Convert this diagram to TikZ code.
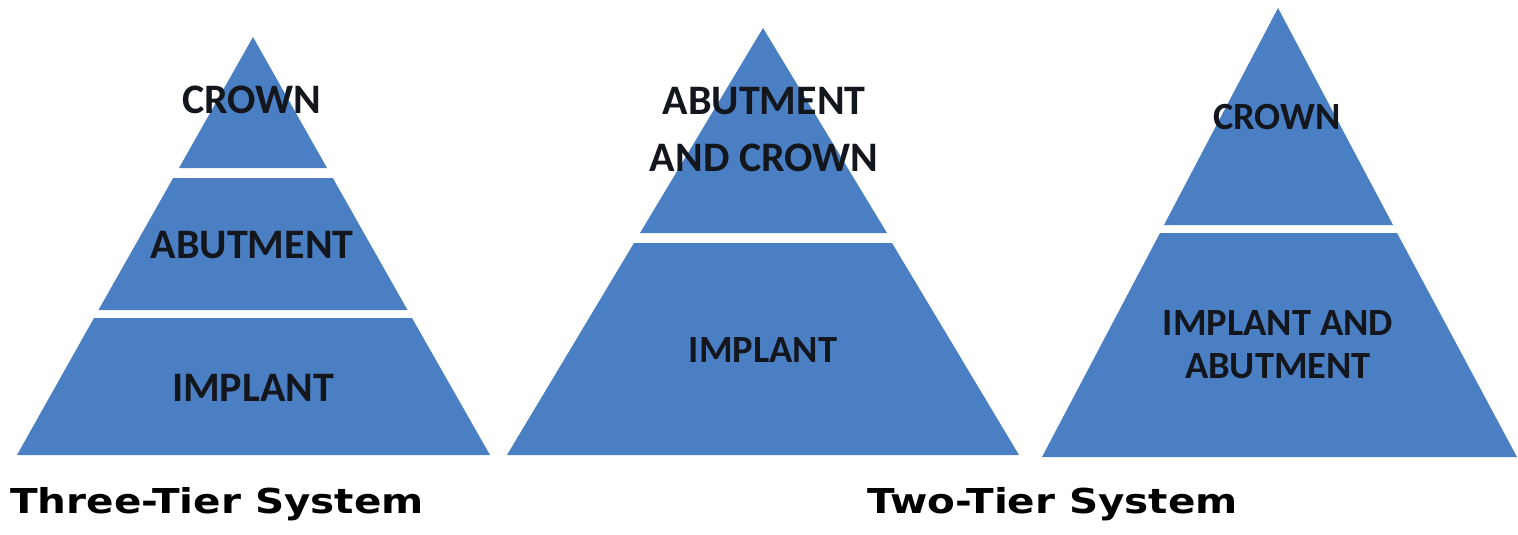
\documentclass[tikz,border=0pt]{standalone}
\usepackage{fontspec}
\newfontfamily\lblfont{Carlito}
\newfontfamily\capfont{DejaVu Sans}
\definecolor{pyr}{HTML}{4A80C3}
\definecolor{ink}{HTML}{14161E}
\begin{document}
\begin{tikzpicture}[x=1pt,y=-1pt,
  band/.style={fill=pyr,draw=none},
  lbl/.style={font=\lblfont\bfseries\fontsize{42}{46}\selectfont,text=ink,align=center,inner sep=0pt},
  lblsmall/.style={lbl,font=\lblfont\bfseries\fontsize{38.5}{43}\selectfont},
  captiontext/.style={font=\capfont\bfseries\fontsize{34.3}{40}\selectfont,text=black,anchor=base west,inner sep=0pt}]
\useasboundingbox (0,0) rectangle (1518,535);
\fill[white] (0,0) rectangle (1518,535);
% pyramid 1
\fill[band] (253,37) -- (327,168) -- (179,168) -- cycle;
\fill[band] (173.2,178) -- (332.8,178) -- (407.5,310) -- (98.5,310) -- cycle;
\fill[band] (94,318) -- (412,318) -- (490,455) -- (17,455) -- cycle;
\node[lbl] (p1crown) at (252,100) {CROWN};
\node[lbl] (p1abut) at (252,245) {ABUTMENT};
\node[lbl] (p1impl) at (253,388) {IMPLANT};
% pyramid 2
\fill[band] (763,28) -- (887,233) -- (640,233) -- cycle;
\fill[band] (634,243) -- (892,243) -- (1019,455) -- (507,455) -- cycle;
\node[lbl,font=\lblfont\bfseries\fontsize{42}{57}\selectfont] (p2top) at (764,130) {ABUTMENT\\AND CROWN};
\node[lblsmall] (p2impl) at (763,350) {IMPLANT};
% pyramid 3
\fill[band] (1278,8) -- (1393,225) -- (1164,225) -- cycle;
\fill[band] (1160,233) -- (1397,233) -- (1517,457) -- (1042,457) -- cycle;
\node[lblsmall] (p3crown) at (1277,117) {CROWN};
\node[lblsmall] (p3impl) at (1278,345) {IMPLANT AND\\ABUTMENT};
% captions
\node[captiontext] (c3) at (10,513) {\scalebox{1.18}[1]{Three-Tier System}};
\node[captiontext] (c2) at (867,513) {\scalebox{1.18}[1]{Two-Tier System}};
\end{tikzpicture}
\end{document}
